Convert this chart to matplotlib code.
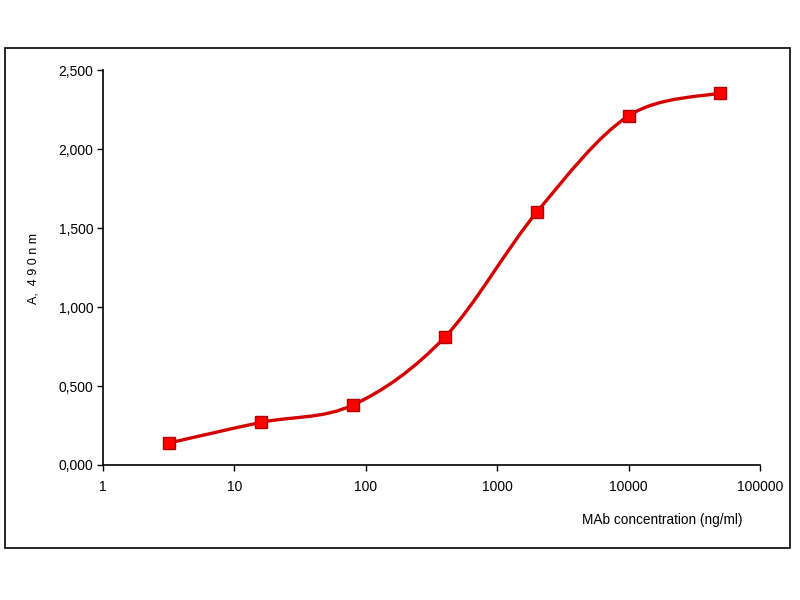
import numpy as np
import matplotlib.pyplot as plt
from matplotlib.path import Path
from matplotlib.patches import PathPatch, Rectangle
from matplotlib.ticker import FuncFormatter, FixedLocator, NullLocator

# Data (5-fold dilutions)
concentration = [3.2, 16, 80, 400, 2000, 10000, 50000]
absorbance = [0.14, 0.27, 0.38, 0.81, 1.60, 2.21, 2.355]

x_ticks = [1, 10, 100, 1000, 10000, 100000]
y_ticks = [0.0, 0.5, 1.0, 1.5, 2.0, 2.5]

plt.rcParams['font.family'] = ['Liberation Sans', 'DejaVu Sans']

fig = plt.figure(figsize=(8, 6), dpi=100)
ax = fig.add_axes([0.12875, 0.225, 0.82125, 0.6583])


def smooth_path(xs, ys, tension=1 / 6):
    # Excel-like smoothed line: Catmull-Rom bezier segments in log-x space
    lx = np.log10(xs)
    ys = np.asarray(ys, dtype=float)
    n = len(lx)
    verts = [(xs[0], ys[0])]
    codes = [Path.MOVETO]
    for i in range(n - 1):
        p0 = max(i - 1, 0)
        p3 = min(i + 2, n - 1)
        c1x = lx[i] + (lx[i + 1] - lx[p0]) * tension
        c1y = ys[i] + (ys[i + 1] - ys[p0]) * tension
        c2x = lx[i + 1] - (lx[p3] - lx[i]) * tension
        c2y = ys[i + 1] - (ys[p3] - ys[i]) * tension
        verts += [(10 ** c1x, c1y), (10 ** c2x, c2y), (xs[i + 1], ys[i + 1])]
        codes += [Path.CURVE4] * 3
    return Path(verts, codes)


ax.set_xscale('log')
ax.set_xlim(1, 100000)
ax.set_ylim(0, 2.5)

curve = PathPatch(smooth_path(concentration, absorbance), facecolor='none',
                  edgecolor='#d40000', linewidth=2.4, zorder=2)
ax.add_patch(curve)
ax.plot(concentration, absorbance, linestyle='none', marker='s', markersize=8.5,
        markerfacecolor='#ff0000', markeredgecolor='#b00000', markeredgewidth=1, zorder=3)

ax.xaxis.set_major_locator(FixedLocator(x_ticks))
ax.xaxis.set_minor_locator(NullLocator())
ax.xaxis.set_major_formatter(FuncFormatter(lambda v, p: f'{v:.0f}'))
ax.yaxis.set_major_locator(FixedLocator(y_ticks))
ax.yaxis.set_major_formatter(FuncFormatter(lambda v, p: f'{v:.3f}'.replace('.', ',')))

ax.spines['top'].set_visible(False)
ax.spines['right'].set_visible(False)
for s in ('left', 'bottom'):
    ax.spines[s].set_linewidth(1.2)
ax.tick_params(axis='both', direction='out', length=4, width=1, labelsize=10, pad=3)
ax.tick_params(axis='x', pad=7)

fig.text(33 / 800, 1 - 268 / 600, 'A,  4 9 0 n m', fontsize=9, rotation=90,
         ha='center', va='center')
fig.text(582 / 800, 1 - 520 / 600, 'MAb concentration (ng/ml)', fontsize=9.8,
         ha='left', va='center')

# outer frame around the plot area
fig.add_artist(Rectangle((5 / 800, 1 - 548 / 600), 785 / 800, 500 / 600,
                         transform=fig.transFigure, fill=False, edgecolor='black', linewidth=1.2))

fig.savefig('out.png', dpi=100)
